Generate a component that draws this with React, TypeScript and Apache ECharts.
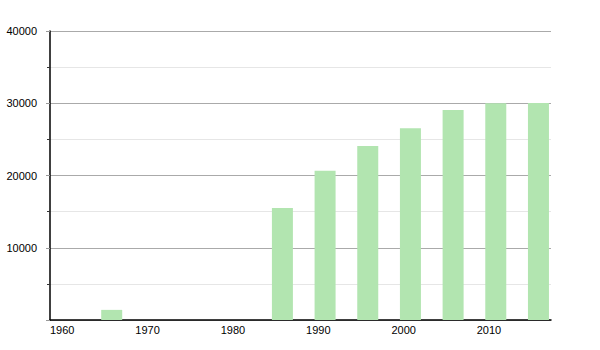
import React, { useEffect, useRef } from "react";
import * as echarts from "echarts";

const years = [1966, 1986, 1991, 1996, 2001, 2006, 2011, 2016];
const population = [1400, 15500, 20650, 24100, 26550, 29050, 30000, 30050];
const yTicks = [10000, 20000, 30000, 40000];

export default function App() {
  const ref = useRef<HTMLDivElement>(null);
  useEffect(() => {
    if (!ref.current) return;
    const chart = echarts.init(ref.current, null, { renderer: "svg" });
    const data = years.map((y, i) => [y, population[i]]);
    chart.setOption({
      animation: false,
      backgroundColor: "#ffffff",
      textStyle: { fontFamily: "Liberation Sans, Arial, sans-serif" },
      grid: { left: 50, top: 31, right: 49, bottom: 30, containLabel: false },
      xAxis: {
        type: "value",
        min: 1960,
        max: 2018.7,
        interval: 10,
        axisLine: { show: true, onZero: false, lineStyle: { color: "#000", width: 1.5 } },
        axisTick: { show: false },
        splitLine: { show: false },
        axisLabel: {
          show: true,
          showMaxLabel: false,
          align: "left",
          margin: 4,
          color: "#000",
          fontSize: 11,
          fontFamily: "Liberation Sans, Arial, sans-serif",
          formatter: (v: number) => String(v),
        },
      },
      yAxis: {
        type: "value",
        min: 0,
        max: 40000,
        interval: 10000,
        axisLine: { show: true, lineStyle: { color: "#000", width: 1.5 } },
        axisTick: { show: true, length: 4, lineStyle: { color: "#999" } },
        minorTick: { show: true, splitNumber: 2, length: 3, lineStyle: { color: "#333" } },
        splitLine: { show: true, lineStyle: { color: "#aaaaaa", width: 1 } },
        minorSplitLine: { show: true, lineStyle: { color: "#e6e6e6", width: 1 } },
        axisLabel: {
          color: "#000",
          fontSize: 11,
          margin: 13,
          fontFamily: "Liberation Sans, Arial, sans-serif",
          formatter: (v: number) => (yTicks.indexOf(v) >= 0 ? String(v) : ""),
        },
      },
      series: [
        {
          type: "custom",
          data,
          renderItem: (params: any, api: any) => {
            const base = api.coord([api.value(0), 0]);
            const top = api.coord([api.value(0), api.value(1)]);
            return {
              type: "rect",
              shape: { x: base[0], y: top[1], width: 21, height: base[1] - top[1] },
              style: { fill: "#b2e5b0" },
            };
          },
        },
      ],
    });
    return () => chart.dispose();
  }, []);
  return (
    <div
      ref={ref}
      style={{ position: "fixed", left: 0, top: 0, width: 600, height: 350, background: "#fff" }}
    />
  );
}
